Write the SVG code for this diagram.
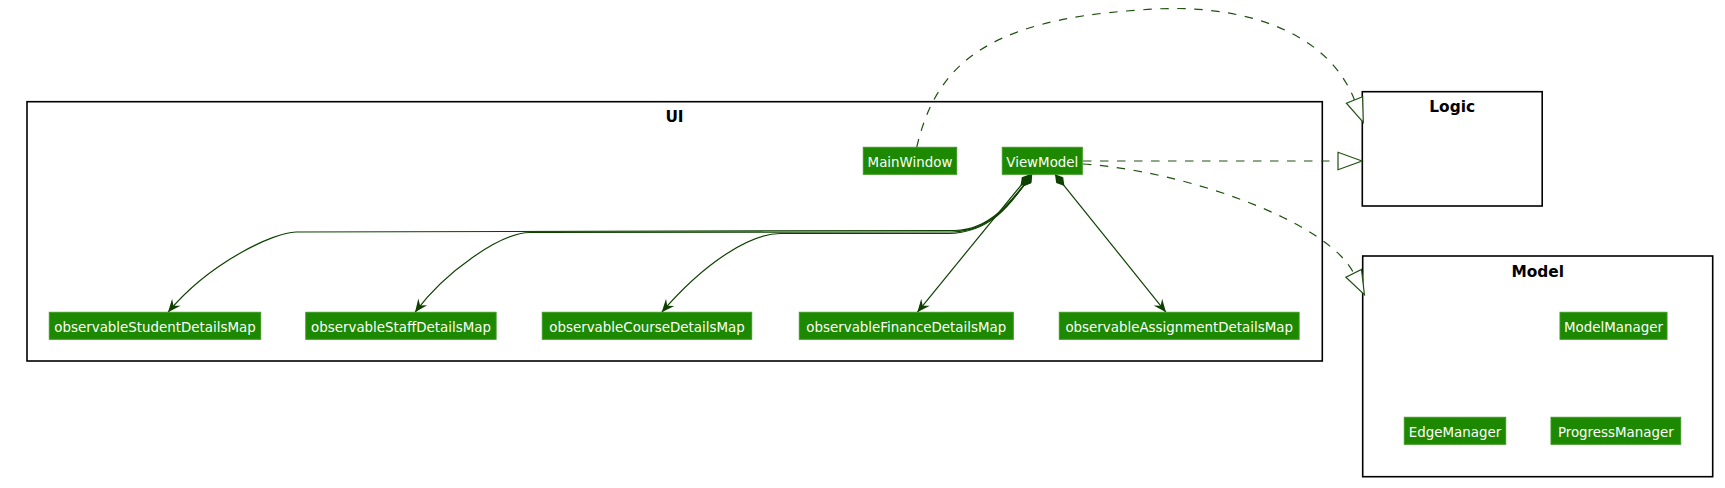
<svg xmlns="http://www.w3.org/2000/svg" width="1725" height="488" viewBox="0 0 1725 488">
<style>
.pkg{fill:#FFFFFF;stroke:#000000;stroke-width:1.6}
.ptitle{font-family:"DejaVu Sans","Liberation Sans",sans-serif;font-size:15.4px;font-weight:bold;fill:#000000;text-anchor:middle}
.cls{fill:#1D8900;stroke:#3A9A20;stroke-width:1}
.cname{font-family:"DejaVu Sans","Liberation Sans",sans-serif;font-size:13.4px;fill:#FFFFFF;text-anchor:middle}
.solid{fill:none;stroke:#0E4100;stroke-width:1.2}
.dash{fill:none;stroke:#1E5010;stroke-width:1.2;stroke-dasharray:8.5 8.5}
</style>
<defs>
<marker id="arrow" viewBox="-14 -7 15 14" refX="0" refY="0" markerWidth="15" markerHeight="14" markerUnits="userSpaceOnUse" orient="auto">
<path d="M0,0 L-13,-5.5 L-8.5,0 L-13,5.5 Z" fill="#0E4100"/>
</marker>
<marker id="diamond" viewBox="-1 -6 17 12" refX="0" refY="0" markerWidth="17" markerHeight="12" markerUnits="userSpaceOnUse" orient="auto">
<path d="M0,0 L7.5,-4.5 L15,0 L7.5,4.5 Z" fill="#0E4100"/>
</marker>
<marker id="tri" viewBox="-1 -10 27 20" refX="0" refY="0" markerWidth="27" markerHeight="20" markerUnits="userSpaceOnUse" orient="auto">
<path d="M24,0 L0,-8.7 L0,8.7 Z" fill="#FFFFFF" stroke="#1E5010" stroke-width="1.2" stroke-dasharray="none"/>
</marker>
</defs>
<rect x="0" y="0" width="1725" height="488" fill="#FFFFFF"/>

<g id="pkg-ui">
<rect class="pkg" x="27" y="101.7" width="1295.3" height="259.3"/>
<text class="ptitle" x="674.5" y="122.4">UI</text>
</g>
<g id="pkg-logic">
<rect class="pkg" x="1362.3" y="91.7" width="179.9" height="114.3"/>
<text class="ptitle" x="1452.2" y="112.4">Logic</text>
</g>
<g id="pkg-model">
<rect class="pkg" x="1362.7" y="256" width="350" height="220.7"/>
<text class="ptitle" x="1537.7" y="276.7">Model</text>
</g>

<g id="connectors">
<path class="dash" d="M916.7,147.3 C935,70 980,20 1140,10 C1230,2 1325,25 1354.5,100" marker-end="url(#tri)"/>
<path class="dash" d="M1083,161 L1338,161" marker-end="url(#tri)"/>
<path class="dash" d="M1083,164 C1180,170 1327,220 1353.7,273.3" marker-end="url(#tri)"/>
<path class="solid" d="M1032,174.3 C1012,201 990,230 955,230.5 L296,232 C274,232.5 210,262 168,312.3" marker-start="url(#diamond)" marker-end="url(#arrow)"/>
<path class="solid" d="M1032,174.3 C1013,200 992,231.5 952,232 L530,232.5 C500,233 445,272 415,312.3" marker-start="url(#diamond)" marker-end="url(#arrow)"/>
<path class="solid" d="M1032,174.3 C1014,199 994,233 948,233.5 L780,233.5 C750,234 705,262 661.7,312.3" marker-start="url(#diamond)" marker-end="url(#arrow)"/>
<path class="solid" d="M1030,174.3 L917.3,312.3" marker-start="url(#diamond)" marker-end="url(#arrow)"/>
<path class="solid" d="M1055,174.3 L1166,312.3" marker-start="url(#diamond)" marker-end="url(#arrow)"/>
</g>

<g id="MainWindow">
<rect class="cls" x="863.3" y="147.3" width="93.4" height="27"/>
<text class="cname" x="910" y="166.7">MainWindow</text>
</g>
<g id="ViewModel">
<rect class="cls" x="1002.3" y="147.3" width="80" height="27"/>
<text class="cname" x="1042.3" y="166.7">ViewModel</text>
</g>
<g id="observableStudentDetailsMap">
<rect class="cls" x="49.3" y="312.3" width="211.4" height="27"/>
<text class="cname" x="155" y="331.7">observableStudentDetailsMap</text>
</g>
<g id="observableStaffDetailsMap">
<rect class="cls" x="305.8" y="312.3" width="190.3" height="27"/>
<text class="cname" x="401" y="331.7">observableStaffDetailsMap</text>
</g>
<g id="observableCourseDetailsMap">
<rect class="cls" x="542.3" y="312.3" width="209.4" height="27"/>
<text class="cname" x="647" y="331.7">observableCourseDetailsMap</text>
</g>
<g id="observableFinanceDetailsMap">
<rect class="cls" x="799.3" y="312.3" width="214" height="27"/>
<text class="cname" x="906.3" y="331.7">observableFinanceDetailsMap</text>
</g>
<g id="observableAssignmentDetailsMap">
<rect class="cls" x="1059.3" y="312.3" width="239.8" height="27"/>
<text class="cname" x="1179.2" y="331.7">observableAssignmentDetailsMap</text>
</g>
<g id="ModelManager">
<rect class="cls" x="1560" y="312.3" width="107" height="27"/>
<text class="cname" x="1613.5" y="331.7">ModelManager</text>
</g>
<g id="EdgeManager">
<rect class="cls" x="1404.3" y="417.3" width="101.4" height="27"/>
<text class="cname" x="1455" y="436.7">EdgeManager</text>
</g>
<g id="ProgressManager">
<rect class="cls" x="1551" y="417.3" width="129.7" height="27"/>
<text class="cname" x="1615.8" y="436.7">ProgressManager</text>
</g>
</svg>
